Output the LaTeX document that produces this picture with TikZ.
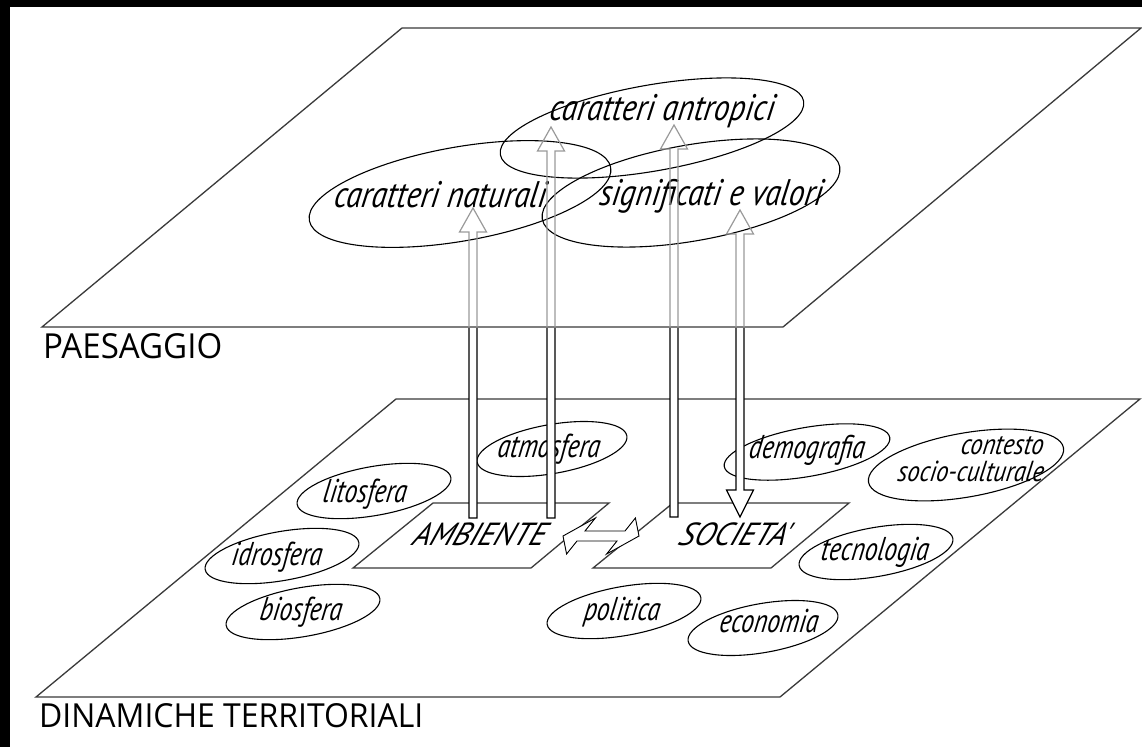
\documentclass[tikz,border=0pt]{standalone}
\usepackage{fontspec}
\setmainfont{Open Sans}
\newfontfamily\lblfont{PT Sans}[ItalicFeatures={FakeSlant=0.14,FakeStretch=0.77}]
\newfontfamily\conlblfont{PT Sans}[ItalicFeatures={FakeSlant=0.14,FakeStretch=0.84}]
\newfontfamily\toplblfont{PT Sans}[ItalicFeatures={FakeSlant=0.14,FakeStretch=0.84}]
\newfontfamily\boxfont{PT Sans}[ItalicFeatures={FakeSlant=0.35,FakeStretch=0.95}]
\usetikzlibrary{shapes.geometric,calc}
\definecolor{planecol}{HTML}{3A3A3A}
\definecolor{fadecol}{HTML}{9A9A9A}
\newcommand\arrUp[3]{%
  \draw[#1] let \p1=(#2), \p2=(#3) in
   (\x1-4pt,\y1) -- (\x1-4pt,\y2-24pt) -- (\x1-13.5pt,\y2-24pt) -- (\x2,\y2)
   -- (\x1+13.5pt,\y2-24pt) -- (\x1+4pt,\y2-24pt) -- (\x1+4pt,\y1) -- cycle;}
\newcommand\arrBoth[3]{%
  \draw[#1] let \p1=(#2), \p2=(#3) in
   (\x1,\y1) -- (\x1-13.5pt,\y1+27pt) -- (\x1-4pt,\y1+27pt) -- (\x1-4pt,\y2-24pt)
   -- (\x1-13.5pt,\y2-24pt) -- (\x2,\y2) -- (\x1+13.5pt,\y2-24pt) -- (\x1+4pt,\y2-24pt)
   -- (\x1+4pt,\y1+27pt) -- (\x1+13.5pt,\y1+27pt) -- cycle;}
\newcommand\allarrows[1]{%
  \arrUp{#1}{a1s}{a1e}
  \arrUp{#1}{a2s}{a2e}
  \arrUp{#1}{a3s}{a3e}
  \arrBoth{#1}{a4s}{a4e}}
\begin{document}
\begin{tikzpicture}[x=1pt,y=-1pt,
  plane/.style={draw=planecol,line width=1.3pt,line join=miter},
  ell/.style={draw=black,line width=1.1pt,ellipse,inner sep=0pt,rotate=10},
  small/.style={ell,minimum width=156pt,minimum height=49pt},
  lbl/.style={font=\lblfont\itshape\fontsize{33}{35}\selectfont,inner sep=0pt,anchor=base},
  tlbl/.style={font=\toplblfont\itshape\fontsize{37}{39}\selectfont,inner sep=0pt,anchor=base},
  blbl/.style={font=\boxfont\itshape\fontsize{32}{34}\selectfont,inner sep=0pt,anchor=base},
  dark/.style={draw=black,line width=1.2pt,fill=white},
  fade/.style={draw=fadecol,line width=1.2pt},
  harrow/.style={draw=black,line width=0.9pt,fill=white,line join=miter},
  title/.style={inner sep=0pt,anchor=base west}]
\useasboundingbox (0,0) rectangle (1142,747);
\fill[white] (0,0) rectangle (1142,747);
\fill[black] (0,0) rectangle (1142,7);
\fill[black] (0,0) rectangle (10,747);

% ---------- bottom plane ----------
\coordinate (b1) at (396,399);
\coordinate (b2) at (1140,399);
\coordinate (b3) at (780,697);
\coordinate (b4) at (36,697);
\draw[plane] (b1) -- (b2) -- (b3) -- (b4) -- cycle;

\coordinate (am1) at (433,503);
\coordinate (am2) at (609,503);
\coordinate (am3) at (531,568);
\coordinate (am4) at (353,568);
\draw[plane] (am1) -- (am2) -- (am3) -- (am4) -- cycle;
\coordinate (so1) at (673,503);
\coordinate (so2) at (849,503);
\coordinate (so3) at (771,568);
\coordinate (so4) at (593,568);
\draw[plane] (so1) -- (so2) -- (so3) -- (so4) -- cycle;
\node[blbl] (amb) at (477,545) {AMBIENTE};
\node[blbl] (soc) at (732,545) {SOCIETA'};

\node[small,minimum width=152pt] (atm) at (552,449) {};
\node[small] (lit) at (374,491) {};
\node[small] (idr) at (282,556) {};
\node[small] (bio) at (303,612) {};
\node[small,minimum width=168pt] (dem) at (807,452) {};
\node[ell,minimum width=198pt,minimum height=64pt] (con) at (966,465) {};
\node[small] (tec) at (876,552) {};
\node[small] (pol) at (624,611) {};
\node[small,minimum width=152pt] (eco) at (763,628) {};

\node[lbl] (atmT) at (548,457) {atmosfera};
\node[lbl] (litT) at (364,502) {litosfera};
\node[lbl] (idrT) at (276,565) {idrosfera};
\node[lbl] (bioT) at (300,620) {biosfera};
\node[lbl] (demT) at (806,458) {demografia};
\node[lbl,align=right,anchor=north east,
      font=\conlblfont\itshape\fontsize{29}{27}\selectfont] (conT) at (1043,436) {contesto\\socio-culturale};
\node[lbl] (tecT) at (874,560) {tecnologia};
\node[lbl] (polT) at (621,620) {politica};
\node[lbl] (ecoT) at (768,632) {economia};

% double arrow between AMBIENTE and SOCIETA'
\coordinate (hc) at (601,536);
\draw[harrow] ($(hc)+(-38,0)$) -- ($(hc)+(-5.6,-18)$) -- ($(hc)+(-16,-5)$)
  -- ($(hc)+(24,-5)$) -- ($(hc)+(34.4,-18)$) -- ($(hc)+(38,0)$)
  -- ($(hc)+(5.6,18)$) -- ($(hc)+(16,5)$) -- ($(hc)+(-24,5)$)
  -- ($(hc)+(-34.4,18)$) -- cycle;

% ---------- arrow end points ----------
\coordinate (a1s) at (473,518);
\coordinate (a1e) at (473,208);
\coordinate (a2s) at (551,518);
\coordinate (a2e) at (551,127);
\coordinate (a3s) at (674,517);
\coordinate (a3e) at (674,125);
\coordinate (a4s) at (740,517);
\coordinate (a4e) at (740,210);

\begin{scope}
  \clip (0,327) rectangle (1142,747);
  \allarrows{dark}
\end{scope}

% ---------- top plane ----------
\coordinate (t1) at (402,28);
\coordinate (t2) at (1141,28);
\coordinate (t3) at (783,327);
\coordinate (t4) at (42,327);
\draw[plane] (t1) -- (t2) -- (t3) -- (t4) -- cycle;

\node[ell,minimum width=306pt,minimum height=94pt] (nat) at (460,194) {};
\node[ell,minimum width=308pt,minimum height=86pt] (ant) at (652,128) {};
\node[ell,minimum width=302pt,minimum height=96pt] (sig) at (691,193) {};

\node[tlbl] (antT) at (661,120) {caratteri antropici};
\node[tlbl] (natT) at (439,207) {caratteri naturali};
\node[tlbl] (sigT) at (710,205) {significati e valori};

\begin{scope}
  \clip (0,0) rectangle (1142,327);
  \allarrows{fade}
\end{scope}

\node[title] (pae) at (43,358) {\resizebox{179pt}{25pt}{PAESAGGIO}};
\node[title] (din) at (39,727) {\resizebox{384pt}{24pt}{DINAMICHE TERRITORIALI}};
\end{tikzpicture}
\end{document}
